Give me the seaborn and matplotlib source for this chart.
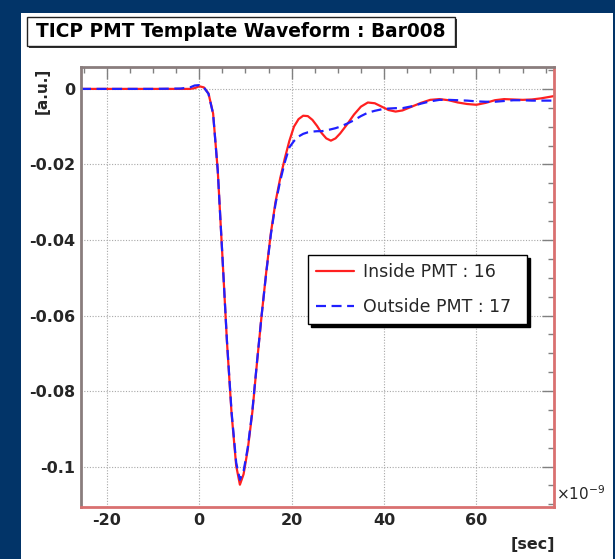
import matplotlib
matplotlib.use("Agg")
import matplotlib.pyplot as plt
import pandas as pd
import seaborn as sns
from matplotlib.patches import Rectangle
from matplotlib.lines import Line2D
from matplotlib.ticker import MultipleLocator

# ---------------- data ----------------
time_ns = [-25.6, -20, -10, -4, -2, -1, 0, 1, 2, 3, 4, 5, 6, 7, 8, 8.8, 9.6,
           10.5, 11.5, 12.5, 13.5, 14.5, 15.5, 16.5, 17.5, 18.5, 19.5, 20.5,
           21.5, 22.5, 23.5, 24.5, 25.5, 26.5, 27.5, 28.5, 29.5, 30.5, 32,
           33.5, 35, 36.5, 38, 39.5, 41, 42.5, 44, 46, 48, 50, 52, 54, 56, 58,
           60, 62, 64, 66, 68, 70, 72, 74, 76.8]

inside_pmt16 = [0.0, 0.0, 0.0, 0.0, 0.0, 0.0002, 0.0007, 0.0004, -0.0012,
                -0.0065, -0.0215, -0.0440, -0.0670, -0.0860, -0.0998, -0.1048,
                -0.1020, -0.0955, -0.0855, -0.0725, -0.0600, -0.0485, -0.0382,
                -0.0300, -0.0238, -0.0185, -0.0138, -0.0100, -0.0080, -0.0071,
                -0.0072, -0.0082, -0.0098, -0.0117, -0.0131, -0.0137, -0.0131,
                -0.0118, -0.0094, -0.0068, -0.0047, -0.0036, -0.0038, -0.0047,
                -0.0056, -0.0060, -0.0057, -0.0047, -0.0037, -0.0029, -0.0027,
                -0.0030, -0.0036, -0.0040, -0.0042, -0.0037, -0.0030, -0.0027,
                -0.0028, -0.0029, -0.0028, -0.0025, -0.0019]

outside_pmt17 = [0.0, 0.0, 0.0, 0.0001, 0.0004, 0.0009, 0.0010, 0.0004, -0.0013,
                 -0.0066, -0.0215, -0.0440, -0.0668, -0.0856, -0.0990, -0.1035,
                 -0.1012, -0.0950, -0.0852, -0.0723, -0.0600, -0.0487, -0.0386,
                 -0.0305, -0.0245, -0.0195, -0.0155, -0.0138, -0.0126, -0.0119,
                 -0.0115, -0.0113, -0.0112, -0.0112, -0.0110, -0.0107, -0.0104,
                 -0.0100, -0.0092, -0.0083, -0.0072, -0.0063, -0.0058, -0.0054,
                 -0.0052, -0.0051, -0.0051, -0.0046, -0.0039, -0.0033, -0.0029,
                 -0.0029, -0.0030, -0.0031, -0.0033, -0.0034, -0.0034, -0.0032,
                 -0.0030, -0.0030, -0.0031, -0.0031, -0.0031]

series_names = ["Inside PMT : 16", "Outside PMT : 17"]
x_ticks = [-20, 0, 20, 40, 60]
x_tick_labels = ["-20", "0", "20", "40", "60"]
y_ticks = [0, -0.02, -0.04, -0.06, -0.08, -0.1]
y_tick_labels = ["0", "-0.02", "-0.04", "-0.06", "-0.08", "-0.1"]
title_text = "TICP PMT Template Waveform : Bar008"

# ---------------- figure ----------------
sns.set_theme(style="white")
plt.rcParams["font.family"] = ["DejaVu Sans"]
plt.rcParams["mathtext.fontset"] = "dejavusans"

W, H = 615, 559
fig = plt.figure(figsize=(W / 100, H / 100), dpi=100, facecolor="#023468")

# white canvas panel
fig.patches.append(Rectangle((21 / W, 0), (613 - 21) / W, 1 - 13 / H,
                             transform=fig.transFigure, facecolor="white",
                             edgecolor="none", zorder=-2))
# title box with shadow
bx0, bx1, by0, by1 = 27, 455, 17, 46
fig.patches.append(Rectangle(((bx0 + 2) / W, 1 - (by1 + 2) / H), (bx1 - bx0) / W,
                             (by1 - by0) / H, transform=fig.transFigure,
                             facecolor="#333333", edgecolor="none", zorder=-1.5))
fig.patches.append(Rectangle((bx0 / W, 1 - by1 / H), (bx1 - bx0) / W,
                             (by1 - by0) / H, transform=fig.transFigure,
                             facecolor="white", edgecolor="#222222", lw=1,
                             zorder=-1))
fig.text((bx0 + bx1) / 2 / W, 1 - (by0 + by1) / 2 / H, title_text,
         ha="center", va="center", fontsize=13.4, fontweight="bold", color="black")

ax = fig.add_axes([81 / W, 1 - 507 / H, (554 - 81) / W, (507 - 67) / H])
ax.set_facecolor("white")

df = pd.concat([
    pd.DataFrame({"t": time_ns, "amp": inside_pmt16, "pmt": series_names[0]}),
    pd.DataFrame({"t": time_ns, "amp": outside_pmt17, "pmt": series_names[1]}),
])
colors = {series_names[0]: "#ff2020", series_names[1]: "#2020ff"}
dashes = {series_names[0]: "", series_names[1]: (4.5, 2.5)}
sns.lineplot(data=df, x="t", y="amp", hue="pmt", style="pmt", palette=colors,
             dashes=dashes, linewidth=1.6, estimator=None, sort=False,
             legend=False, ax=ax)

ax.set_xlim(-25.6, 76.8)
ax.set_ylim(-0.1107, 0.0058)
ax.set_xlabel("")
ax.set_ylabel("")
ax.set_xticks(x_ticks, x_tick_labels)
ax.set_yticks(y_ticks, y_tick_labels)
ax.xaxis.set_minor_locator(MultipleLocator(5))
ax.yaxis.set_minor_locator(MultipleLocator(0.005))
ax.tick_params(which="both", direction="in", top=True, right=True,
               color="#808080", width=1)
ax.tick_params(which="major", length=8.5, labelsize=11.5, pad=4)
ax.tick_params(which="minor", length=4.3)
for lab in ax.get_xticklabels() + ax.get_yticklabels():
    lab.set_fontweight("bold")
ax.grid(True, which="major", color="#a8a8a8", linestyle=(0, (1, 1.5)),
        linewidth=0.8)
ax.set_axisbelow(True)

for side in ["left", "top"]:
    ax.spines[side].set_color("#8a7d7d")
    ax.spines[side].set_linewidth(2)
for side in ["bottom", "right"]:
    ax.spines[side].set_color("#d97070")
    ax.spines[side].set_linewidth(2)

handles = [Line2D([], [], color=colors[n], lw=1.6,
                  linestyle="-" if dashes[n] == "" else (0, dashes[n]))
           for n in series_names]
leg = ax.legend(handles, series_names, loc="upper left",
                bbox_to_anchor=(0.480, 0.418, 0.463, 0.155), mode="expand",
                frameon=True, fancybox=False, edgecolor="black",
                shadow={"color": "black", "alpha": 1.0}, fontsize=12.5,
                handlelength=2.2, handletextpad=0.5, labelspacing=1.0,
                borderpad=0.45, borderaxespad=0)
leg.get_frame().set_linewidth(1.0)

# axis labels / exponent
fig.text(42 / W, 1 - 68 / H, "[a.u.]", rotation=90, ha="center", va="top",
         fontsize=11, fontweight="bold")
fig.text(555 / W, 1 - 544 / H, "[sec]", ha="right", va="center",
         fontsize=11.5, fontweight="bold")
fig.text(556 / W, 1 - 500 / H, r"$\times10^{-9}$", ha="left", va="baseline",
         fontsize=11)

fig.savefig("out.png", dpi=100, facecolor=fig.get_facecolor())
